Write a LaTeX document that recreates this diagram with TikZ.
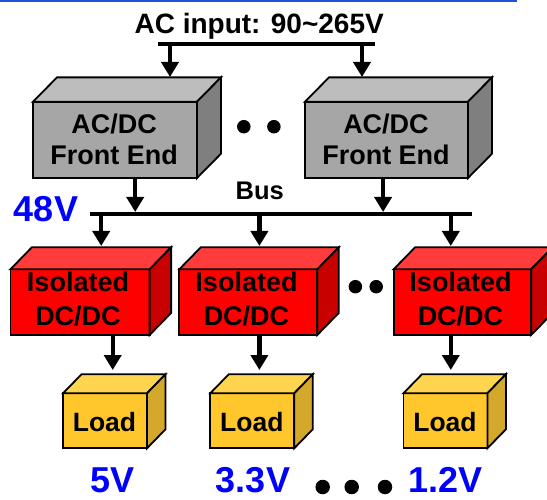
\documentclass[tikz,border=0pt]{standalone}
\usepackage{fontspec}
\setmainfont{Liberation Sans}
\usetikzlibrary{arrows.meta}
\definecolor{gfront}{HTML}{A6A6A6}
\definecolor{gtop}{HTML}{BDBDBD}
\definecolor{gside}{HTML}{7F7F7F}
\definecolor{rfront}{HTML}{FF0000}
\definecolor{rtop}{HTML}{FF3B3B}
\definecolor{rside}{HTML}{C80000}
\definecolor{yfront}{HTML}{FFC72C}
\definecolor{ytop}{HTML}{FFD54F}
\definecolor{yside}{HTML}{D4A82A}
\definecolor{vblue}{HTML}{0000FF}
\definecolor{topline}{HTML}{2050D8}
\newcommand\cubefaces[5]{%
  \draw[face,fill=#4] (#1.north west) -- ([shift={(#2,-#3)}]#1.north west) -- ([shift={(#2,-#3)}]#1.north east) -- (#1.north east) -- cycle;
  \draw[face,fill=#5] (#1.north east) -- ([shift={(#2,-#3)}]#1.north east) -- ([shift={(#2,-#3)}]#1.south east) -- (#1.south east) -- cycle;}
\begin{document}
\begin{tikzpicture}[x=1pt,y=-1pt,
  face/.style={draw=black, line width=1.8pt, line join=miter},
  front/.style={face, rectangle, inner sep=0pt, outer sep=0pt},
  btxt/.style={anchor=base, inner sep=0pt, font=\fontsize{27}{32}\selectfont\bfseries},
  ln/.style={line width=4.2pt},
  arr/.style={line width=4.2pt, -{Triangle[length=15pt,width=17pt]}},
  volt/.style={anchor=base, text=vblue, font=\fontsize{36}{40}\selectfont\bfseries, inner sep=0pt},
  lbl/.style={anchor=base, font=\fontsize{28}{32}\selectfont\bfseries, inner sep=0pt},
  dot/.style={circle, fill=black, inner sep=0pt, minimum size=13.5pt}]
\useasboundingbox (0,0) rectangle (547,500);
\fill[topline] (0,0) rectangle (517,1.8);

% AC input
\node[lbl] (acin) at (259.2,33.3) {AC input: 90\textasciitilde265V};
\coordinate (acL) at (158.3,44.2);
\coordinate (acR) at (375,44.2);
\draw[ln] (acL) -- (acR);
\coordinate (ac1) at (170,44.2);
\coordinate (ac2) at (362,44.2);

% Front ends
\node[front, fill=gfront, minimum width=164pt, minimum height=76.3pt] (fe1) at (115,139.85) {};
\cubefaces{fe1}{24}{24.3}{gtop}{gside}
\node[btxt] (fe1a) at (114.2,133.3) {AC/DC};
\node[btxt] (fe1b) at (114.2,165) {Front End};
\node[front, fill=gfront, minimum width=163pt, minimum height=76.3pt] (fe2) at (386.5,139.85) {};
\cubefaces{fe2}{24}{24.3}{gtop}{gside}
\node[btxt] (fe2a) at (386,133.3) {AC/DC};
\node[btxt] (fe2b) at (386,165) {Front End};
\coordinate (ft1) at (170,77);
\coordinate (ft2) at (362,77);
\draw[arr] (ac1) -- (ft1);
\draw[arr] (ac2) -- (ft2);
\node[dot] (gd1) at (243.8,126.7) {};
\node[dot] (gd2) at (273.9,126.7) {};

% Bus
\coordinate (busL) at (89.5,213.8);
\coordinate (busR) at (472.3,213.8);
\draw[ln] (busL) -- (busR);
\node[btxt, font=\fontsize{25.5}{30}\selectfont\bfseries] (bus) at (259.7,200) {Bus};
\node[volt] (v48) at (46,221.7) {48V};
\coordinate (bi1) at (135.2,212);
\coordinate (bi2) at (383.1,212);
\draw[arr] (fe1.south -| bi1) -- (bi1);
\draw[arr] (fe2.south -| bi2) -- (bi2);

% Isolated DC/DC
\node[front, fill=rfront, minimum width=139.2pt, minimum height=65.7pt] (r1) at (80,302.15) {};
\cubefaces{r1}{21.5}{22}{rtop}{rside}
\node[btxt] (r1a) at (78,291) {Isolated};
\node[btxt] (r1b) at (78,325.7) {DC/DC};
\node[front, fill=rfront, minimum width=138pt, minimum height=65.7pt] (r2) at (248.3,302.15) {};
\cubefaces{r2}{21.5}{22}{rtop}{rside}
\node[btxt] (r2a) at (246.5,291) {Isolated};
\node[btxt] (r2b) at (246.5,325.7) {DC/DC};
\node[front, fill=rfront, minimum width=137.6pt, minimum height=65.7pt] (r3) at (462.4,302.15) {};
\cubefaces{r3}{21.5}{22}{rtop}{rside}
\node[btxt] (r3a) at (460.5,291) {Isolated};
\node[btxt] (r3b) at (460.5,325.7) {DC/DC};
\coordinate (bo1) at (101.2,213.8);
\coordinate (bo2) at (259.4,213.8);
\coordinate (bo3) at (450.8,213.8);
\coordinate (rt1) at (101.2,246);
\coordinate (rt2) at (259.4,246);
\coordinate (rt3) at (450.8,246);
\draw[arr] (bo1) -- (rt1);
\draw[arr] (bo2) -- (rt2);
\draw[arr] (bo3) -- (rt3);
\node[dot] (rd1) at (355.4,286.7) {};
\node[dot] (rd2) at (376.2,286.7) {};

% Loads
\node[front, fill=yfront, minimum width=84pt, minimum height=55pt] (l1) at (105,420.8) {};
\cubefaces{l1}{18.5}{19}{ytop}{yside}
\node[btxt, font=\fontsize{26.5}{30}\selectfont\bfseries] (l1a) at (104.5,431.7) {Load};
\node[front, fill=yfront, minimum width=84pt, minimum height=55pt] (l2) at (252.25,420.8) {};
\cubefaces{l2}{18.5}{19}{ytop}{yside}
\node[btxt, font=\fontsize{26.5}{30}\selectfont\bfseries] (l2a) at (251.8,431.7) {Load};
\node[front, fill=yfront, minimum width=84pt, minimum height=55pt] (l3) at (445.4,420.8) {};
\cubefaces{l3}{18.5}{19}{ytop}{yside}
\node[btxt, font=\fontsize{26.5}{30}\selectfont\bfseries] (l3a) at (445,431.7) {Load};
\coordinate (lt1) at (112.7,370);
\coordinate (lt2) at (259.4,370);
\coordinate (lt3) at (450.8,370);
\draw[arr] (r1.south -| lt1) -- (lt1);
\draw[arr] (r2.south -| lt2) -- (lt2);
\draw[arr] (r3.south -| lt3) -- (lt3);

% Output voltages
\node[volt] (v5) at (112.2,492.5) {5V};
\node[volt] (v33) at (253,492.5) {3.3V};
\node[volt] (v12) at (445.6,492.5) {1.2V};
\node[dot, minimum size=14.5pt] (bd1) at (322.7,487) {};
\node[dot, minimum size=14.5pt] (bd2) at (351.7,487) {};
\node[dot, minimum size=14.5pt] (bd3) at (385,487) {};
\end{tikzpicture}
\end{document}
